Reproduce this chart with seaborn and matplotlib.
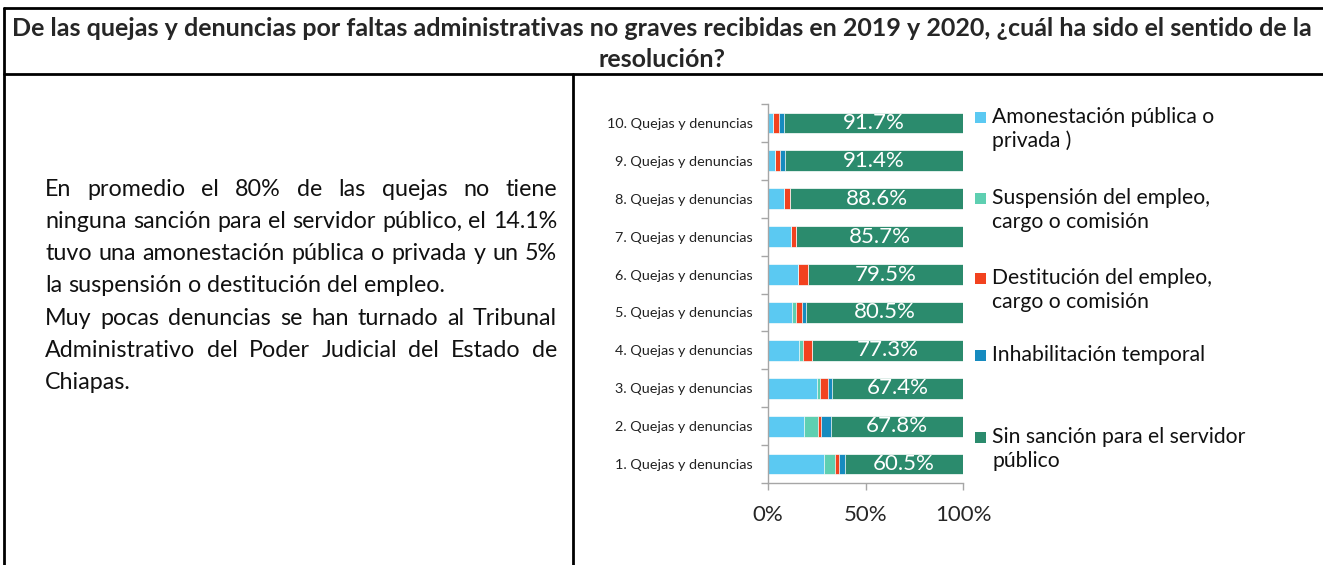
import numpy as np
import pandas as pd
import seaborn as sns
import matplotlib
matplotlib.use("Agg")
import matplotlib.pyplot as plt
from matplotlib.lines import Line2D
from matplotlib.patches import Rectangle

# ---- data (rows 1..10, percent) ----
categories = ["1. Quejas y denuncias", "2. Quejas y denuncias", "3. Quejas y denuncias",
              "4. Quejas y denuncias", "5. Quejas y denuncias", "6. Quejas y denuncias",
              "7. Quejas y denuncias", "8. Quejas y denuncias", "9. Quejas y denuncias",
              "10. Quejas y denuncias"]
amonestacion = [28.9, 18.7, 24.9, 15.9, 12.4, 15.4, 11.6, 8.3, 3.4, 2.8]
suspension = [5.5, 6.7, 1.9, 2.2, 2.2, 0.0, 0.0, 0.0, 0.0, 0.0]
destitucion = [2.2, 1.9, 3.9, 4.6, 2.7, 5.1, 2.7, 3.1, 2.6, 2.6]
inhabilitacion = [2.9, 4.9, 1.9, 0.0, 2.2, 0.0, 0.0, 0.0, 2.6, 2.9]
sin_sancion = [60.5, 67.8, 67.4, 77.3, 80.5, 79.5, 85.7, 88.6, 91.4, 91.7]

series_names = ["Amonestación pública o\nprivada )", "Suspensión del empleo,\ncargo o comisión",
                "Destitución del empleo,\ncargo o comisión", "Inhabilitación temporal",
                "Sin sanción para el servidor\npúblico"]
colors = ["#5BC9F2", "#5ECFB1", "#F2421F", "#168BBF", "#2B8B6D"]

title_lines = ["De las quejas y denuncias por faltas administrativas no graves recibidas en 2019 y 2020, ¿cuál ha sido el sentido de la",
               "resolución?"]
body_lines = [("En promedio el 80% de las quejas no tiene", True),
              ("ninguna sanción para el servidor público, el 14.1%", True),
              ("tuvo una amonestación pública o privada y un 5%", True),
              ("la suspensión o destitución del empleo.", False),
              ("Muy pocas denuncias se han turnado al Tribunal", True),
              ("Administrativo del Poder Judicial del Estado de", True),
              ("Chiapas.", False)]

sns.set_style("white")
plt.rcParams["font.family"] = ["Lato", "DejaVu Sans"]

W, H = 1323, 565
fig = plt.figure(figsize=(W / 100, H / 100), dpi=100)

def fx(px):
    return px / W

def fy(py):
    return 1 - py / H

df = pd.DataFrame({"cat": categories, "a": amonestacion, "s": suspension,
                   "d": destitucion, "i": inhabilitacion, "n": sin_sancion})
order = categories[::-1]
cols = ["a", "s", "d", "i", "n"]
cum = df[cols].cumsum(axis=1)

ax = fig.add_axes([fx(768), fy(483), fx(963) - fx(768), (483 - 104) / H])
for col, c in reversed(list(zip(cols, colors))):
    sns.barplot(x=cum[col], y=df["cat"], order=order, orient="h", color=c, saturation=1,
                width=0.55, edgecolor="white", linewidth=0.5, errorbar=None, ax=ax)

ax.set_xlim(0, 100)
ax.set_ylim(9.5, -0.5)
ax.set_xlabel("")
ax.set_ylabel("")
ax.set_xticks([0, 50, 100])
ax.set_xticklabels(["0%", "50%", "100%"], fontsize=16)
ax.set_yticks(np.arange(-0.5, 10, 1), minor=True)
ax.tick_params(axis="y", which="major", length=0, pad=11, labelsize=10.4, labelcolor="#222222")
ax.tick_params(axis="y", which="minor", length=5, color="#a6a6a6", width=1, direction="out", left=True)
ax.tick_params(axis="x", which="major", length=5, color="#a6a6a6", width=1, direction="out",
               bottom=True, pad=11)
for side in ["top", "right"]:
    ax.spines[side].set_visible(False)
for side in ["left", "bottom"]:
    ax.spines[side].set_color("#a6a6a6")
    ax.spines[side].set_linewidth(1)

# percent labels inside the green segment
for _, row in df.iterrows():
    ypos = order.index(row["cat"])
    start = row["a"] + row["s"] + row["d"] + row["i"]
    ax.text((start + 100) / 2, ypos, f"{row['n']:.1f}%", ha="center", va="center",
            color="white", fontsize=16)

# legend drawn by hand to follow the uneven spacing of the original
legend_y = [117, 198, 278, 355, 437]
for name, c, y0 in zip(series_names, colors, legend_y):
    fig.patches.append(Rectangle((fx(975), fy(y0 + 5.5)), 11 / W, 11 / H,
                                 transform=fig.transFigure, facecolor=c, edgecolor="none"))
    for k, part in enumerate(name.split("\n")):
        fig.text(fx(992), fy(y0 + 24 * k), part, ha="left", va="center", fontsize=15.2,
                 color="#111111")

# table borders
lw = 2
fig.add_artist(Line2D([fx(4), 1], [fy(8), fy(8)], color="black", lw=lw))
fig.add_artist(Line2D([fx(4), 1], [fy(74), fy(74)], color="black", lw=lw))
fig.add_artist(Line2D([fx(4), fx(4)], [fy(8), 0], color="black", lw=lw))
fig.add_artist(Line2D([fx(573), fx(573)], [fy(74), 0], color="black", lw=lw))

fig.canvas.draw()
r = fig.canvas.get_renderer()

# header, fitted to the original width
t1 = fig.text(fx(661.5), fy(29), title_lines[0], ha="center", va="center",
              fontsize=14, fontweight="bold")
w1 = t1.get_window_extent(r).width
hsize = 14 * 1303 / w1
t1.set_fontsize(hsize)
fig.text(fx(661.5), fy(60), title_lines[1], ha="center", va="center",
         fontsize=hsize, fontweight="bold")

# justified body text; size fitted so the second line is close to its natural width
left, right = 45, 557
probe = fig.text(0, 0, body_lines[1][0], fontsize=14)
bsize = 14 * (right - left) / probe.get_window_extent(r).width * 0.995
probe.remove()
probe_a = fig.text(0, 0, "a a", fontsize=bsize)
probe_b = fig.text(0, 0, "aa", fontsize=bsize)
space_w = probe_a.get_window_extent(r).width - probe_b.get_window_extent(r).width
probe_a.remove()
probe_b.remove()
for i, (line, just) in enumerate(body_lines):
    yy = fy(189 + 32.3 * i)
    words = line.split()
    ts = [fig.text(0, yy, w, ha="left", va="center", fontsize=bsize, color="#111111")
          for w in words]
    widths = [t.get_window_extent(r).width for t in ts]
    if just and len(words) > 1:
        gap = (right - left - sum(widths)) / (len(words) - 1)
    else:
        gap = space_w
    x = left
    for t, wd in zip(ts, widths):
        t.set_x(fx(x))
        x += wd + gap

fig.savefig("out.png", dpi=100)
